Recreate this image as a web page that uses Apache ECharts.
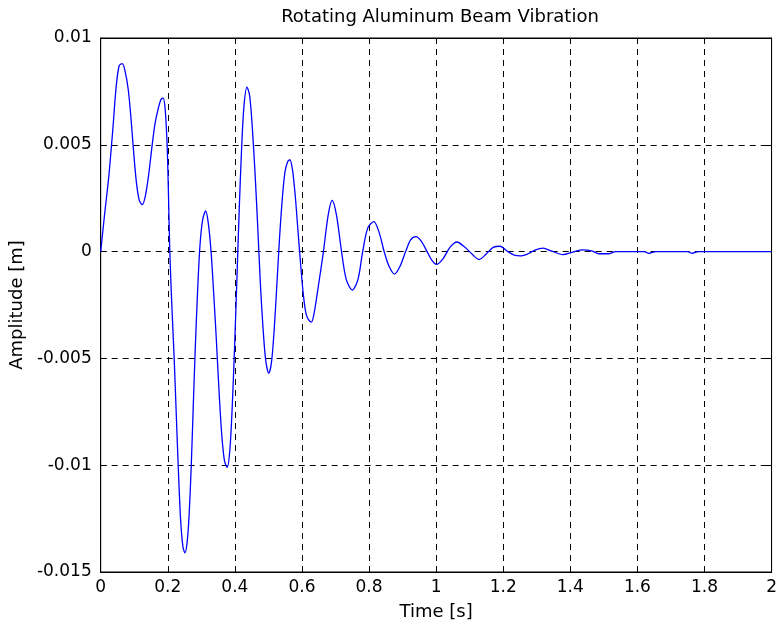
<!DOCTYPE html>
<html>
<head>
<meta charset="utf-8">
<script src="https://cdn.jsdelivr.net/npm/echarts@6/dist/echarts.min.js"></script>
<style>
html,body{margin:0;padding:0;background:#fff;}
#chart{width:780px;height:631px;}
</style>
</head>
<body>
<div id="chart"></div>
<script>
// Data
var timeS = [
  0, 0.012, 0.024, 0.036, 0.046, 0.055, 0.064, 0.072, 0.082, 0.090, 0.097, 0.106, 0.115, 0.124,
  0.133, 0.143, 0.152, 0.161, 0.170, 0.179, 0.186, 0.192, 0.198, 0.202, 0.206,
  0.212, 0.219, 0.225, 0.231, 0.238, 0.245, 0.251, 0.257, 0.263, 0.270, 0.276, 0.282, 0.289, 0.296,
  0.304, 0.313, 0.321, 0.329, 0.337, 0.345, 0.353, 0.361, 0.369, 0.377,
  0.385, 0.392, 0.399, 0.406, 0.413, 0.420, 0.427, 0.436, 0.444, 0.452, 0.460, 0.468, 0.476, 0.484, 0.492, 0.501,
  0.509, 0.517, 0.525, 0.533, 0.541, 0.549, 0.557, 0.564, 0.572, 0.580, 0.588, 0.596, 0.604, 0.612, 0.620, 0.628,
  0.636, 0.649, 0.664, 0.678, 0.690, 0.703, 0.718, 0.732, 0.750, 0.767, 0.781, 0.796, 0.814, 0.830, 0.845,
  0.860, 0.876, 0.892, 0.909, 0.924, 0.940, 0.955, 0.973, 0.987, 1.001, 1.022, 1.041, 1.062, 1.086, 1.106,
  1.128, 1.150, 1.170, 1.191, 1.211, 1.231, 1.251, 1.274, 1.293, 1.319, 1.343, 1.378, 1.407, 1.438, 1.466,
  1.485, 1.515, 1.535, 1.620, 1.634, 1.655, 1.750, 1.763, 1.782, 2.0
];
var amplitudeM = [
  0, 0.0018, 0.0035, 0.0057, 0.0077, 0.0087, 0.0088, 0.0085, 0.0076, 0.0063, 0.0049, 0.0033, 0.0024, 0.0022,
  0.0026, 0.0036, 0.0048, 0.0059, 0.0066, 0.0071, 0.0072, 0.0067, 0.0050, 0.0027, 0.0,
  -0.0025, -0.0050, -0.0075, -0.0100, -0.0125, -0.0138, -0.0141, -0.0137, -0.0125, -0.0100, -0.0072, -0.0045, -0.0018, 0.0003,
  0.0015, 0.0019, 0.0013, 0.0000, -0.0020, -0.0042, -0.0066, -0.0086, -0.0098, -0.0101,
  -0.0093, -0.0073, -0.0045, -0.0013, 0.0020, 0.0048, 0.0068, 0.0077, 0.0073, 0.0058, 0.0037, 0.0012, -0.0015, -0.0036, -0.0051, -0.0057,
  -0.0052, -0.0037, -0.0016, 0.0006, 0.0024, 0.0037, 0.0042, 0.0043, 0.0038, 0.0026, 0.0010, -0.0006, -0.0020, -0.0029, -0.0032, -0.0033,
  -0.0029, -0.0016, 0.0, 0.0017, 0.0024, 0.0017, 0.0, -0.0013, -0.0018, -0.0013, 0.0, 0.0011, 0.0014, 0.0009, 0.0,
  -0.0007, -0.00105, -0.0007, 0.0, 0.00055, 0.0007, 0.0005, 0.0, -0.0004, -0.0006, -0.0003, 0.0002, 0.00045, 0.0002, -0.0001,
  -0.00037, -0.0001, 0.0002, 0.00025, 0.00003, -0.00015, -0.0002, -0.0001, 0.00006, 0.00016, 0.00003, -0.00014, -0.00002, 0.00008, 0.00002,
  -0.0001, -0.0001, 0, 0, -0.00008, 0, 0, -0.00008, 0, 0
];
var xTickLabels = ['0', '0.2', '0.4', '0.6', '0.8', '1', '1.2', '1.4', '1.6', '1.8', '2'];
var yTickLabels = ['-0.015', '-0.01', '-0.005', '0', '0.005', '0.01'];
var chartTitle = 'Rotating Aluminum Beam Vibration';
var xName = 'Time [s]';
var yName = 'Amplitude [m]';

var points = timeS.map(function (t, i) { return [t, amplitudeM[i]]; });

var FONT = 'DejaVu Sans';
var gridDash = { type: [6, 5], color: '#000', width: 1 };

var chart = echarts.init(document.getElementById('chart'), null, { renderer: 'canvas' });
chart.setOption({
  animation: false,
  backgroundColor: '#fff',
  title: {
    text: chartTitle,
    left: 435, top: 3, textAlign: 'center',
    textStyle: { fontFamily: FONT, fontSize: 18, fontWeight: 'normal', color: '#000' }
  },
  grid: {
    left: 97, right: 7, top: 38, bottom: 59,
    show: true, borderColor: '#000', borderWidth: 1, backgroundColor: '#fff'
  },
  xAxis: [{
    type: 'value', min: 0, max: 2, interval: 0.2, position: 'bottom',
    name: xName, nameLocation: 'middle', nameGap: 31,
    nameTextStyle: { fontFamily: FONT, fontSize: 18, color: '#000' },
    axisLine: { show: true, onZero: false, lineStyle: { color: '#000', width: 1 } },
    axisTick: { show: true, inside: true, length: 6, lineStyle: { color: '#000' } },
    axisLabel: {
      fontFamily: FONT, fontSize: 17, color: '#000', margin: 7,
      formatter: function (v, i) { return xTickLabels[i]; }
    },
    splitLine: { show: true, lineStyle: gridDash }
  }, {
    type: 'value', min: 0, max: 2, interval: 0.2, position: 'top',
    axisLine: { show: true, onZero: false, lineStyle: { color: '#000', width: 1 } },
    axisTick: { show: true, inside: true, length: 6, lineStyle: { color: '#000' } },
    axisLabel: { show: false }, splitLine: { show: false }
  }],
  yAxis: [{
    type: 'value', min: -0.015, max: 0.01, interval: 0.005, position: 'left',
    name: yName, nameLocation: 'middle', nameGap: 73, nameRotate: 90,
    nameTextStyle: { fontFamily: FONT, fontSize: 18, color: '#000' },
    axisLine: { show: true, onZero: false, lineStyle: { color: '#000', width: 1 } },
    axisTick: { show: true, inside: true, length: 6, lineStyle: { color: '#000' } },
    axisLabel: {
      fontFamily: FONT, fontSize: 17, color: '#000', margin: 9,
      formatter: function (v, i) { return yTickLabels[i]; }
    },
    splitLine: { show: true, lineStyle: gridDash }
  }, {
    type: 'value', min: -0.015, max: 0.01, interval: 0.005, position: 'right',
    axisLine: { show: true, onZero: false, lineStyle: { color: '#000', width: 1 } },
    axisTick: { show: true, inside: true, length: 6, lineStyle: { color: '#000' } },
    axisLabel: { show: false }, splitLine: { show: false }
  }],
  series: [{
    type: 'line',
    xAxisIndex: 0, yAxisIndex: 0,
    data: points,
    smooth: 0.3,
    showSymbol: false,
    lineStyle: { color: '#0000ff', width: 1.3 },
    z: 5
  }]
});
</script>
</body>
</html>
